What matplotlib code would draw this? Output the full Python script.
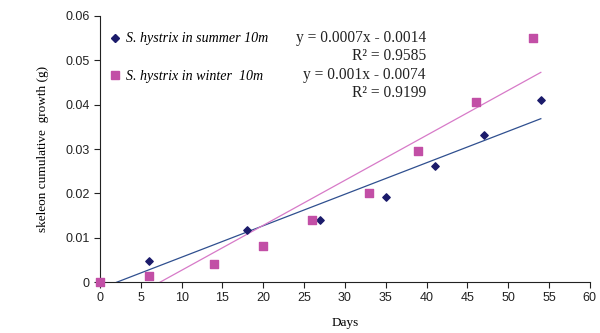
import numpy as np
import matplotlib.pyplot as plt
from matplotlib.lines import Line2D

# days and cumulative skeleton growth (g)
summer_days = [0, 6, 18, 27, 35, 41, 47, 54]
summer_growth = [0.0, 0.0047, 0.0117, 0.0140, 0.0192, 0.0261, 0.0332, 0.0410]
winter_days = [0, 6, 14, 20, 26, 33, 39, 46, 53]
winter_growth = [0.0, 0.0014, 0.0041, 0.0081, 0.0141, 0.0201, 0.0296, 0.0406, 0.0550]

summer_eq = "y = 0.0007x - 0.0014"
summer_r2 = "R² = 0.9585"
winter_eq = "y = 0.001x - 0.0074"
winter_r2 = "R² = 0.9199"

navy = '#1b1b6b'
pink = '#c24fa6'
line_blue = '#2f4f8f'
line_pink = '#d77ac8'

fig = plt.figure(figsize=(6, 3.33), dpi=100)
ax = fig.add_axes([0.1667, 0.153, 0.8163, 0.799])

# linear trend lines
xs = np.array([0, 54])
a1, b1 = np.polyfit(summer_days, summer_growth, 1)
a2, b2 = np.polyfit(winter_days, winter_growth, 1)
ax.plot(xs, a1 * xs + b1, color=line_blue, lw=0.9, zorder=2)
ax.plot(xs, a2 * xs + b2, color=line_pink, lw=0.9, zorder=2)

ax.scatter(summer_days, summer_growth, marker='D', s=14, color=navy, zorder=3, clip_on=False)
ax.scatter(winter_days, winter_growth, marker='s', s=28, color=pink, zorder=3, clip_on=False)

ax.set_xlim(0, 60)
ax.set_ylim(0, 0.06)
ax.set_xticks(np.arange(0, 61, 5))
ax.set_yticks(np.arange(0, 0.061, 0.01))
ax.set_yticklabels(['0', '0.01', '0.02', '0.03', '0.04', '0.05', '0.06'])
for s in ['top', 'right']:
    ax.spines[s].set_visible(False)
for s in ['left', 'bottom']:
    ax.spines[s].set_linewidth(0.8)
    ax.spines[s].set_color('#222222')
ax.tick_params(direction='out', length=4, width=0.8, color='#222222',
               labelsize=9, labelcolor='#222222')
for lab in ax.get_xticklabels() + ax.get_yticklabels():
    lab.set_family('Liberation Sans')

ax.set_xlabel('Days', family='Liberation Serif', fontsize=9.5, labelpad=9)
ax.set_ylabel('skeleon cumulative  growth (g)', family='Liberation Serif', fontsize=9.5, labelpad=12)

handles = [Line2D([], [], marker='D', ls='', color=navy, markersize=4),
           Line2D([], [], marker='s', ls='', color=pink, markersize=6)]
ax.legend(handles, ['S. hystrix in summer 10m', 'S. hystrix in winter  10m'],
          loc='upper left', bbox_to_anchor=(0.0, 0.975), frameon=False,
          prop={'family': 'Liberation Serif', 'style': 'italic', 'size': 10.1},
          handlelength=0.8, handletextpad=0.35, labelspacing=1.72, borderaxespad=0.3)

tx = (426 - 100) / 490
def ypos(p):
    return (282 - p) / 266
for p, txt in [(38, summer_eq), (56, summer_r2), (75, winter_eq), (93, winter_r2)]:
    ax.text(tx, ypos(p), txt, transform=ax.transAxes, ha='right', va='center',
            family='Liberation Serif', fontsize=11.2, color='#222222')

fig.savefig('out.png', dpi=100)
